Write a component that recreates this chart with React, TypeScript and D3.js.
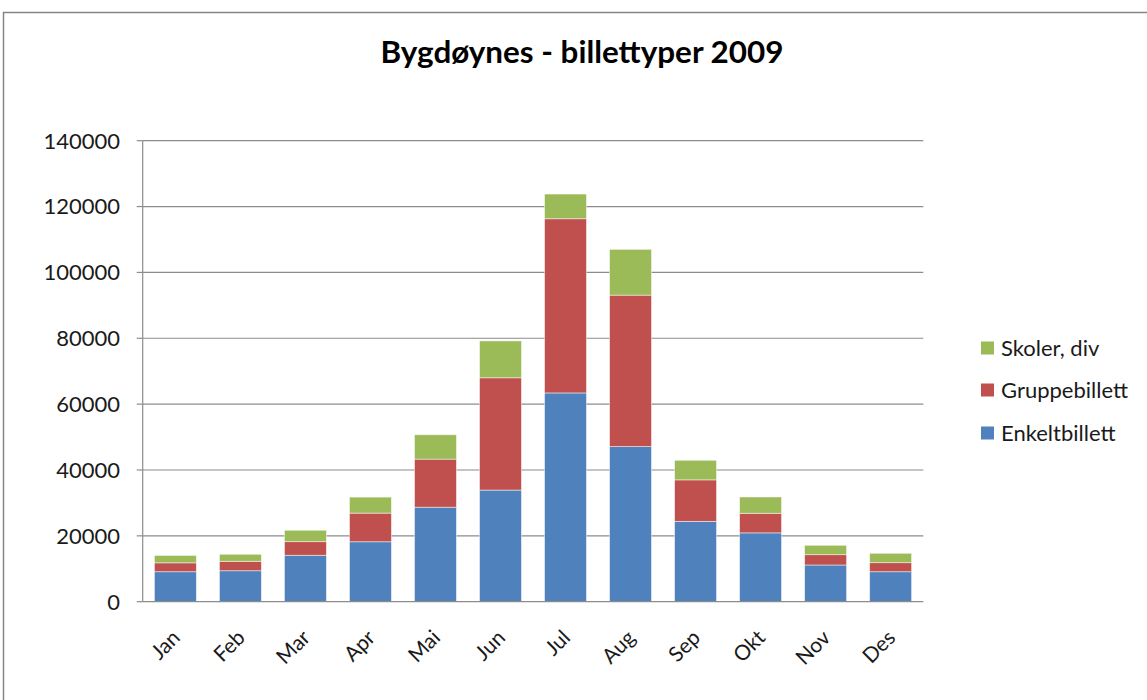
import React from "react";
import * as d3 from "d3";

const months = ["Jan", "Feb", "Mar", "Apr", "Mai", "Jun", "Jul", "Aug", "Sep", "Okt", "Nov", "Des"];
const enkeltbillett = [9100, 9400, 14100, 18200, 28700, 33900, 63400, 47100, 24400, 20900, 11150, 9100];
const gruppebillett = [2700, 2870, 4130, 8700, 14600, 34100, 52900, 46000, 12600, 5950, 3130, 2750];
const skolerDiv = [2250, 2130, 3460, 4860, 7400, 11200, 7500, 13900, 5950, 4950, 2850, 2850];
const yTicks = [0, 20000, 40000, 60000, 80000, 100000, 120000, 140000];
const seriesNames = ["Enkeltbillett", "Gruppebillett", "Skoler, div"];
const colors = ["#4F81BD", "#C0504D", "#9BBB59"];

const W = 1147;
const H = 700;
const FONT = "Lato, 'Open Sans', sans-serif";

export default function App() {
  const left = 142.7, right = 923.3, top = 140.7, bottom = 601.7;
  const x = d3.scaleBand<string>().domain(months).range([left, right]).paddingInner(0.355).paddingOuter(0.18);
  const y = d3.scaleLinear().domain([0, 140000]).range([bottom, top]);
  const table = months.map((m, i) => ({ month: m, e: enkeltbillett[i], g: gruppebillett[i], s: skolerDiv[i] }));
  const stack = d3.stack<any>().keys(["e", "g", "s"])(table);

  const legendOrder = [2, 1, 0];
  const legendY = [348, 390, 433];

  return (
    <svg width={W} height={H} style={{ position: "absolute", left: 0, top: 0 }} fontFamily={FONT}>
      <rect x={0} y={0} width={W} height={H} fill="#fff" />
      <rect x={3.5} y={12.5} width={W + 10} height={H + 10} fill="none" stroke="#868686" strokeWidth={1.5} />
      <text x={582} y={63} textAnchor="middle" fontSize={30} fontWeight="bold" fill="#000" textLength={403} lengthAdjust="spacingAndGlyphs">
        Bygdøynes - billettyper 2009
      </text>
      {yTicks.map((t) => (
        <g key={t}>
          {t > 0 && <line x1={left} x2={right} y1={y(t)} y2={y(t)} stroke="#8c8c8c" strokeWidth={1.2} />}
          <line x1={left - 6} x2={left} y1={y(t)} y2={y(t)} stroke="#8c8c8c" strokeWidth={1.2} />
          <text x={120} y={y(t)} dy="0.36em" textAnchor="end" fontSize={22} fill="#1a1a1a">
            {t}
          </text>
        </g>
      ))}
      {stack.map((layer, li) => (
        <g key={li} fill={colors[li]}>
          {layer.map((d: any, i: number) => (
            <rect
              key={i}
              x={x(months[i])}
              width={x.bandwidth()}
              y={y(d[1])}
              height={y(d[0]) - y(d[1])}
              stroke="#fff"
              strokeOpacity={0.6}
              strokeWidth={0.8}
            />
          ))}
        </g>
      ))}
      <line x1={left} x2={left} y1={top} y2={bottom} stroke="#8c8c8c" strokeWidth={1.2} />
      <line x1={left} x2={right} y1={bottom} y2={bottom} stroke="#8c8c8c" strokeWidth={1.2} />
      {months.map((m) => (
        <text
          key={m}
          transform={`translate(${(x(m) as number) + x.bandwidth() / 2 + 6},${639}) rotate(-45)`}
          textAnchor="end"
          fontSize={21}
          fill="#1a1a1a"
        >
          {m}
        </text>
      ))}
      {legendOrder.map((si, k) => (
        <g key={si}>
          <rect x={981} y={legendY[k] - 6.5} width={13} height={13} fill={colors[si]} />
          <text x={1001} y={legendY[k]} dy="0.36em" fontSize={22} fill="#1a1a1a">
            {seriesNames[si]}
          </text>
        </g>
      ))}
    </svg>
  );
}
